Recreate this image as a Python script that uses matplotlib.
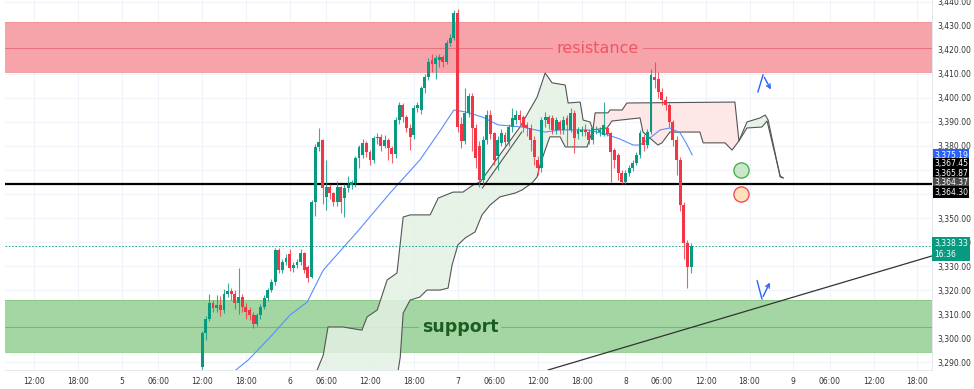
import numpy as np
import matplotlib
matplotlib.use("Agg")
import matplotlib.pyplot as plt

# 30 min candles (index 0 = day 5, 12:00)
opens = [3288, 3302, 3308, 3314.5, 3312.5, 3313.8, 3311.5, 3318.5, 3319.5, 3318.5,
         3314.5, 3317, 3313, 3311.5, 3309.5, 3306, 3309.5, 3313, 3316.7, 3320,
         3323.3, 3336.7, 3328.3, 3331.5, 3335, 3329, 3330.4, 3331.7, 3335.4, 3329.6,
         3325.5, 3356.7, 3379.6, 3382.5, 3358.75, 3362.9, 3360.4, 3356.7, 3362.9, 3358.3,
         3362.5, 3363.75, 3364.6, 3375, 3376.25, 3381.25, 3377.5, 3374.2, 3383.3, 3383.75,
         3380, 3382.5, 3379, 3376.5, 3391, 3397, 3392, 3387.5, 3384.6, 3396,
         3395, 3404, 3408.75, 3416, 3414, 3416, 3417, 3415, 3423, 3425,
         3435.4, 3389, 3382, 3393.75, 3401, 3387.5, 3380, 3366, 3382.5, 3393,
         3385.4, 3376, 3381.25, 3384.6, 3381.7, 3387.9, 3390.8, 3393, 3392, 3388.75,
         3387.5, 3382.5, 3374.2, 3371, 3390.8, 3392, 3391.7, 3386.7, 3390, 3386.7,
         3391.7, 3386.7, 3393.75, 3385, 3385.8, 3386.7, 3386, 3382.5, 3386.7, 3385.8,
         3384.6, 3387.5, 3385.4, 3378.3, 3376.25, 3368.75, 3365, 3368.75, 3370.8, 3372.9,
         3376.25, 3383.75, 3380.4, 3385.8, 3408.75, 3407.9, 3402.5, 3399.2, 3397.1, 3390,
         3382.5, 3374.2, 3355.4, 3339.6, 3329.6]
highs = [3303, 3309, 3318.5, 3316, 3318, 3317.5, 3320.5, 3323, 3321, 3320,
         3329, 3318.5, 3314.5, 3313, 3311, 3310.5, 3314, 3318, 3321, 3324.5,
         3337.5, 3337.5, 3333, 3335, 3337, 3331.5, 3333, 3337, 3336, 3330.5,
         3357.5, 3381, 3387.5, 3383, 3374, 3364, 3361, 3365.5, 3363.5, 3364,
         3367.5, 3366, 3376, 3380.5, 3383, 3382, 3378.5, 3384, 3385.5, 3385,
         3384.5, 3383.5, 3380, 3392, 3398.5, 3398, 3393, 3389, 3397, 3398.5,
         3405, 3410, 3416.5, 3418.5, 3418, 3418.5, 3418, 3424, 3426.5, 3436.5,
         3437, 3392, 3404, 3402, 3402, 3389, 3382, 3384, 3395, 3395,
         3386, 3384, 3387, 3386, 3389, 3395.8, 3395, 3395, 3393, 3390,
         3389, 3384, 3376, 3392, 3394, 3393, 3393, 3392, 3391, 3392.5,
         3393, 3396, 3395, 3388, 3388.5, 3389, 3387, 3388, 3388.5, 3388,
         3398.3, 3388.5, 3386, 3379, 3377, 3370, 3370, 3372, 3374, 3377.5,
         3386.5, 3385, 3387, 3412, 3415, 3411, 3404, 3401, 3398, 3391,
         3384, 3375.5, 3356.5, 3341, 3339.5]
lows = [3284, 3299, 3307, 3311, 3311, 3309, 3310.5, 3317, 3316, 3312,
        3310, 3311, 3308, 3307.5, 3304, 3305, 3308, 3312, 3315.5, 3319,
        3322, 3327, 3327, 3330.5, 3328, 3327.5, 3329, 3330.5, 3327, 3323.5,
        3325, 3351, 3378, 3356, 3353.3, 3358, 3355, 3355, 3352, 3350.4,
        3361, 3362, 3363, 3371, 3375, 3375.5, 3372, 3373, 3381, 3378,
        3379, 3374, 3373, 3375, 3389, 3390, 3386, 3378.5, 3383, 3394,
        3393.5, 3402, 3407.5, 3411, 3408, 3413, 3413, 3414, 3421.5, 3424,
        3386, 3379, 3381, 3392, 3378, 3371, 3363, 3364, 3381, 3383,
        3372, 3370, 3380, 3380, 3380, 3386, 3389, 3389, 3386, 3384,
        3378, 3372, 3368, 3369, 3387.9, 3387, 3385, 3385, 3385, 3385,
        3380, 3386, 3377, 3383, 3384, 3384, 3381, 3381, 3385, 3384,
        3384, 3384, 3365, 3371, 3365.8, 3364, 3364.3, 3367.5, 3369.5, 3372,
        3375, 3378, 3379, 3385, 3404, 3400, 3397, 3395, 3388, 3380,
        3368, 3353, 3333, 3320.8, 3327]
closes = [3302, 3308, 3314.5, 3312.5, 3313.8, 3311.5, 3318.5, 3319.5, 3318.5, 3314.5,
          3317, 3313, 3311, 3309.5, 3306, 3309.5, 3313, 3316.7, 3320, 3323.3,
          3336.7, 3328.3, 3331.5, 3333.5, 3329, 3330.4, 3331.7, 3335.4, 3328.3, 3325,
          3356.7, 3379.6, 3381.7, 3362.5, 3362.9, 3360.4, 3356.7, 3362.9, 3356.7, 3362.5,
          3363.75, 3365, 3375, 3379.6, 3381.25, 3377.5, 3374.2, 3383.3, 3383.75, 3380,
          3382.5, 3379, 3376.5, 3391, 3397, 3392, 3387.5, 3383.75, 3396, 3397,
          3404, 3408.75, 3415, 3414, 3416.5, 3417, 3415, 3423, 3425, 3435.4,
          3388, 3382, 3393.75, 3401, 3387.5, 3375, 3366, 3382.5, 3393, 3385,
          3374.2, 3382.5, 3385.4, 3381.7, 3387.9, 3391.7, 3393, 3390.8, 3387.9, 3387.5,
          3382.5, 3375.5, 3370.8, 3390.8, 3392, 3389, 3386.7, 3390.8, 3386.7, 3390.8,
          3388.75, 3393.75, 3383.3, 3386.7, 3386.7, 3386, 3382.5, 3387.5, 3387, 3386.7,
          3388.75, 3385, 3377.5, 3374.2, 3368.75, 3365, 3368.75, 3370.8, 3372.9, 3376.25,
          3385.4, 3380.4, 3385.8, 3409.6, 3407.5, 3402.5, 3399.2, 3397.1, 3390, 3382.5,
          3374.2, 3355.4, 3339.6, 3329.6, 3338.3]

# moving average (blue)
ma_x = [8.5, 12.6, 14.5, 19.2, 24.1, 28.8, 33.2, 42.5, 51.5, 59.7, 65.2, 69.0, 72.1,
        76.7, 81.1, 87.7, 94.0, 98.1, 105.5, 110.4, 114.5, 118.1, 120.0, 122.7, 125.5,
        128.2, 131.0, 132.6, 134.3]
ma_y = [3285.8, 3290.8, 3293.8, 3301.3, 3309.6, 3315.0, 3328.3, 3344.2, 3360.4, 3374.2,
        3386.3, 3395.0, 3394.2, 3392.1, 3388.8, 3387.9, 3385.8, 3386.7, 3386.7, 3385.0,
        3382.9, 3380.4, 3380.4, 3383.3, 3386.7, 3387.5, 3385.4, 3381.3, 3376.3]

# ichimoku cloud spans
span_a_x = [30.4, 33.2, 34.5, 38.6, 43.8, 45.2, 48.0, 50.7, 53.4, 55.1, 57.0, 62.5, 64.7,
            68.8, 71.5, 74.3, 76.2, 87.1, 91.8, 94.0, 95.9, 99.5, 100.3, 103.6, 104.4,
            106.3, 107.1, 111.0, 112.3, 120.0, 120.8, 124.9, 126.0, 128.2, 136.4, 137.3,
            143.3, 145.2, 147.1, 149.3, 152.9, 154.3, 155.1, 158.4, 159.2]
span_a_y = [3282.5, 3292.9, 3304.6, 3304.6, 3303.3, 3308.8, 3311.7, 3324.2, 3327.1, 3350.4,
            3351.3, 3351.3, 3358.3, 3360.8, 3360.8, 3363.8, 3365.0, 3387.9, 3400.4, 3410.4,
            3406.3, 3405.4, 3397.9, 3398.3, 3390.8, 3390.0, 3386.7, 3387.5, 3390.4, 3391.7,
            3385.8, 3380.4, 3381.3, 3385.8, 3385.8, 3381.3, 3381.3, 3378.3, 3382.1, 3390.0,
            3391.7, 3392.9, 3390.8, 3367.1, 3366.7]
span_b_x = [30.4, 52.9, 54.3, 55.1, 57.0, 59.7, 61.6, 65.2, 67.4, 68.5, 70.1, 72.1, 74.8,
            76.7, 78.9, 81.6, 85.8, 87.7, 90.4, 91.8, 92.6, 94.0, 95.3, 98.1, 99.5, 105.5,
            106.3, 107.1, 107.7, 111.2, 111.8, 115.1, 116.4, 146.0, 147.1, 149.3, 153.4,
            154.8, 158.4, 159.2]
span_b_y = [3278.3, 3278.3, 3292.1, 3310.4, 3315.8, 3317.1, 3320.0, 3320.0, 3320.8, 3330.4,
            3338.8, 3341.7, 3344.2, 3351.3, 3355.4, 3358.8, 3360.4, 3361.7, 3364.6, 3367.1,
            3372.1, 3378.3, 3383.8, 3383.8, 3379.6, 3379.6, 3383.3, 3386.7, 3393.8, 3393.8,
            3395.0, 3395.0, 3397.9, 3398.3, 3382.1, 3387.5, 3387.9, 3390.4, 3367.5, 3366.7]
cloud_cross = [107.1, 147.1]

# zones / levels / drawings
resistance = (3410.8, 3431.7, 3420.8)
support = (3294.2, 3315.8, 3304.6)
key_level = 3364.37
last_price = 3338.33
trend_x = [94.8, 200.0]
trend_y = [3286.7, 3334.2]
trend2_x = [76.8, 87.6]
trend2_y = [3362.5, 3385.8]
circles_x = [147.7, 147.7]
circles_y = [3370.0, 3360.0]
arrow_up_x = [152.3, 153.7, 156.2]
arrow_up_y = [3402.5, 3409.6, 3402.5]
arrow_dn_x = [152.1, 153.4, 155.9]
arrow_dn_y = [3323.8, 3316.3, 3324.2]

time_ticks = [-46, -34, -22, -12, 0, 12, 24, 34, 46, 58, 70, 80, 92, 104, 116, 126,
              138, 150, 162, 172, 184, 196]
time_labels = ["12:00", "18:00", "5", "06:00", "12:00", "18:00", "6", "06:00", "12:00",
               "18:00", "7", "06:00", "12:00", "18:00", "8", "06:00", "12:00", "18:00",
               "9", "06:00", "12:00", "18:00"]
price_ticks = list(range(3290, 3441, 10))
hidden_ticks = [3360, 3370]  # covered by the value boxes on the scale
side_values = [3375.19, 3367.45, 3365.87, 3364.37, 3364.30]
side_colors = ["#2962ff", "#000000", "#000000", "#4a4a4a", "#000000"]

UP, DN = "#089981", "#f23645"
W, H = 974, 389
fig = plt.figure(figsize=(W / 100, H / 100), dpi=100)
ax = fig.add_axes([5 / W, 19 / H, 927 / W, 370 / H])
ax.set_xlim(-54, 200)
ax.set_ylim(3286.7, 3440.8)

for t in time_ticks:
    ax.axvline(t, color="#f0f3fa", lw=0.8, zorder=0)
for p in price_ticks:
    ax.axhline(p, color="#f0f3fa", lw=0.8, zorder=0)

# zones
ax.axhspan(resistance[0], resistance[1], color="#f7a3aa", lw=0, zorder=1)
ax.axhline(resistance[2], color="#e8737e", lw=0.8, zorder=1)
ax.axhspan(support[0], support[1], color="#a3d6a3", lw=0, zorder=1)
ax.axhline(support[2], color="#6fbb6f", lw=0.8, zorder=1)
for v in (resistance[0], resistance[1]):
    ax.axhline(v, color="#f48f98", lw=0.6, zorder=1)
for v in (support[0], support[1]):
    ax.axhline(v, color="#86c986", lw=0.6, zorder=1)

# cloud
ax_ = np.array(span_a_x); ay = np.array(span_a_y)
bx = np.array(span_b_x); by = np.array(span_b_y)
segs = [(-1e9, cloud_cross[0], "#e3f1e3"), (cloud_cross[0], cloud_cross[1], "#fde3e3"),
        (cloud_cross[1], 1e9, "#e3f1e3")]
for lo, hi, col in segs:
    ma = (ax_ >= lo) & (ax_ <= hi)
    mb = (bx >= lo) & (bx <= hi)
    px = np.concatenate([ax_[ma], bx[mb][::-1]])
    py = np.concatenate([ay[ma], by[mb][::-1]])
    ax.fill(px, py, color=col, alpha=0.85, lw=0, zorder=2)
ax.plot(span_a_x, span_a_y, color="#555555", lw=0.8, zorder=3)
ax.plot(span_b_x, span_b_y, color="#555555", lw=0.8, zorder=3)
ax.plot(trend2_x, trend2_y, color="#555555", lw=0.8, zorder=3)

ax.plot(ma_x, ma_y, color="#5b8cff", lw=0.8, zorder=3)

# key level and last price
ax.axhline(key_level, color="#000000", lw=1.6, zorder=4)
ax.axhline(last_price, color=UP, lw=0.6, ls=(0, (2, 2)), zorder=4)
ax.plot(trend_x, trend_y, color="#333333", lw=0.9, zorder=4)

# candles
x = np.arange(len(closes))
o = np.array(opens); c = np.array(closes)
hi_ = np.array(highs); lo_ = np.array(lows)
cols = np.where(c >= o, UP, DN)
ax.vlines(x, lo_, hi_, colors=cols, lw=0.8, alpha=0.8, zorder=5)
body = np.maximum(np.abs(c - o), 0.4)
ax.bar(x, body, bottom=np.minimum(o, c), width=0.8, color=cols, lw=0, zorder=6)

# text labels
ax.text(108.5, resistance[2], "resistance", color="#f05566", fontsize=11.5,
        ha="center", va="center", zorder=7,
        bbox=dict(facecolor="#f7a3aa", edgecolor="none", pad=3))
ax.text(70.7, support[2], "support", color="#1b5e20", fontsize=12.5, fontweight="bold",
        ha="center", va="center", zorder=7,
        bbox=dict(facecolor="#a3d6a3", edgecolor="none", pad=2))

# circles
ax.scatter(circles_x[:1], circles_y[:1], s=120, facecolor="#c9e7c9", edgecolor="#4caf50",
           lw=1, zorder=7)
ax.scatter(circles_x[1:], circles_y[1:], s=120, facecolor="#ffe0b8", edgecolor="#f0505a",
           lw=1, zorder=7)

# hand drawn arrows
for xs, ys in ((arrow_up_x, arrow_up_y), (arrow_dn_x, arrow_dn_y)):
    ax.plot(xs[:2], ys[:2], color="#2962ff", lw=1, zorder=7)
    ax.annotate("", xy=(xs[2], ys[2]), xytext=(xs[1], ys[1]),
                arrowprops=dict(arrowstyle="->", color="#2962ff", lw=1,
                                mutation_scale=7), zorder=7)

# axes styling
ax.set_xticks(time_ticks)
ax.set_xticklabels(time_labels)
ax.set_yticks(price_ticks)
ax.set_yticklabels(["" if p in hidden_ticks else f"{p:,.2f}" for p in price_ticks])
ax.yaxis.tick_right()
ax.tick_params(axis="both", length=0, labelsize=5.5, colors="#333333")
ax.tick_params(axis="x", pad=5)
ax.tick_params(axis="y", pad=4)
for s in ["top", "left"]:
    ax.spines[s].set_visible(False)
ax.spines["right"].set_color("#e0e3eb")
ax.spines["bottom"].set_color("#e0e3eb")
ax.spines["right"].set_linewidth(0.6)
ax.spines["bottom"].set_linewidth(0.6)

# price boxes on the scale
box_y = [155, 164, 173, 182.5, 192]
for v, col, yp in zip(side_values, side_colors, box_y):
    fig.text(934 / W, 1 - yp / H, f"{v:,.2f}", color="white", fontsize=5.5,
             ha="left", va="center",
             bbox=dict(facecolor=col, edgecolor="none", pad=1.0))
fig.text(934 / W, 1 - 249 / H, f"{last_price:,.2f}\n16:36", color="white", fontsize=5.5,
         ha="left", va="center", linespacing=1.25,
         bbox=dict(facecolor=UP, edgecolor="none", pad=1.2))

fig.savefig("out.png", dpi=100)
